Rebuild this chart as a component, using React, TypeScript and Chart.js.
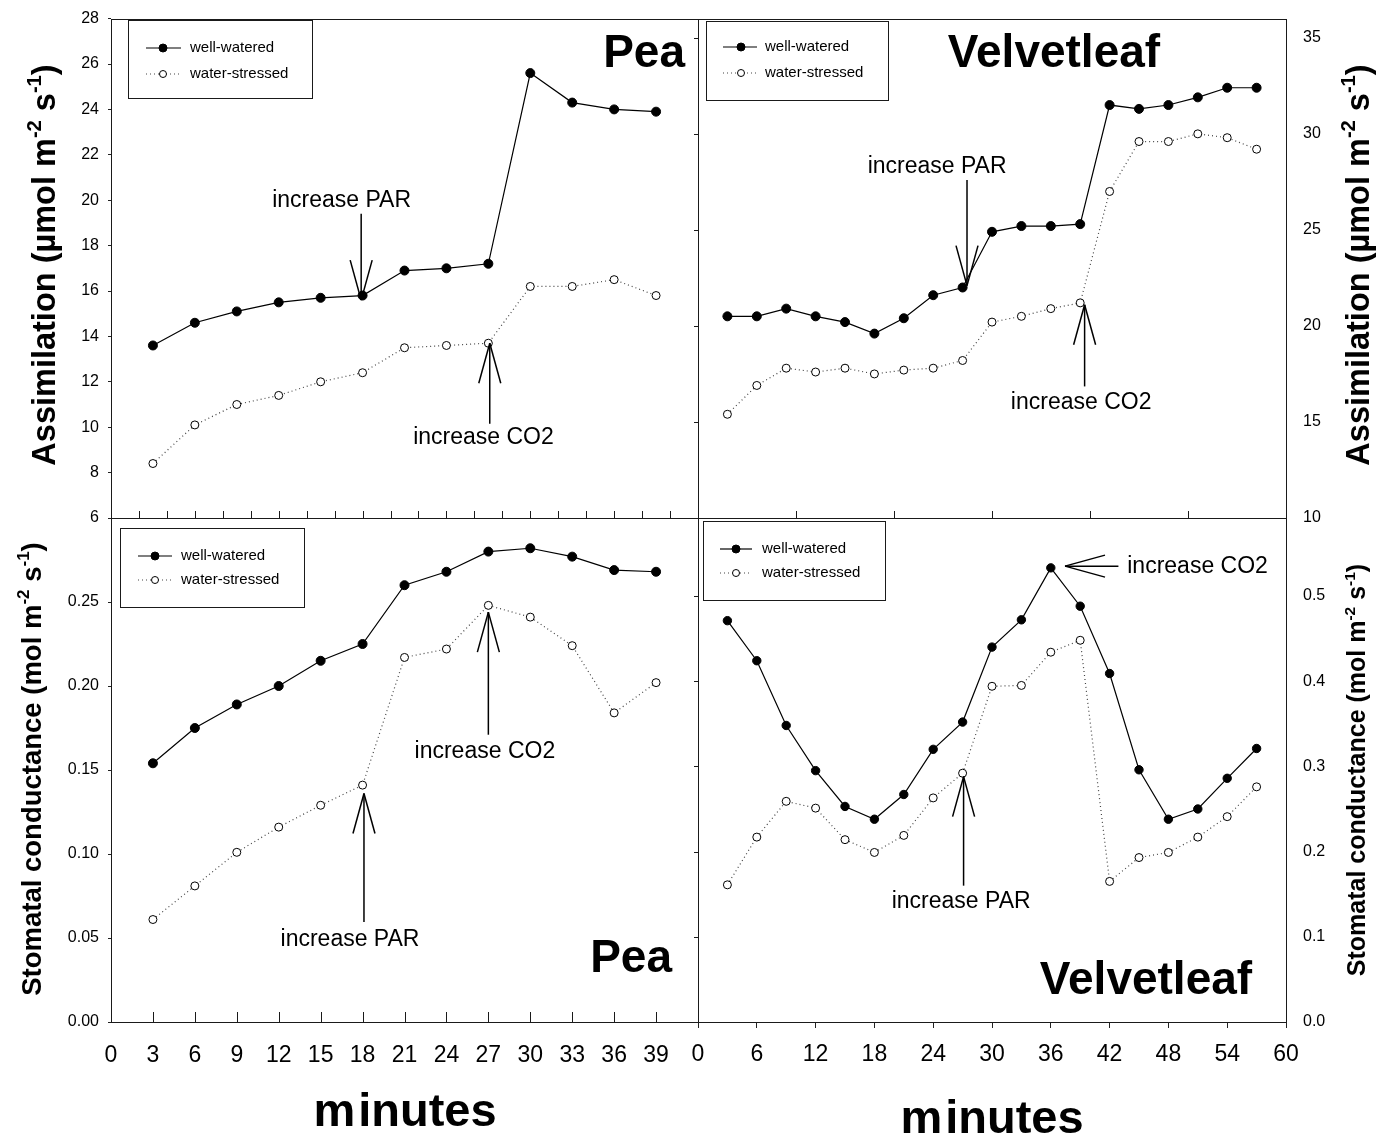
import React, { useEffect, useRef } from "react";
import { Chart, registerables } from "chart.js";
Chart.register(...registerables);

const W = 1385;
const H = 1135;
const FONT = "'Liberation Sans', Arial, sans-serif";

// ---------------- data ----------------
const peaMinutes = [3, 6, 9, 12, 15, 18, 21, 24, 27, 30, 33, 36, 39];
const velvetMinutes = [3, 6, 9, 12, 15, 18, 21, 24, 27, 30, 33, 36, 39, 42, 45, 48, 51, 54, 57];

const peaAssimWW = [13.6, 14.6, 15.1, 15.5, 15.7, 15.8, 16.9, 17.0, 17.2, 25.6, 24.3, 24.0, 23.9];
const peaAssimWS = [8.4, 10.1, 11.0, 11.4, 12.0, 12.4, 13.5, 13.6, 13.7, 16.2, 16.2, 16.5, 15.8];

const velvetAssimWW = [20.5, 20.5, 20.9, 20.5, 20.2, 19.6, 20.4, 21.6, 22.0, 24.9, 25.2, 25.2, 25.3, 31.5, 31.3, 31.5, 31.9, 32.4, 32.4];
const velvetAssimWS = [15.4, 16.9, 17.8, 17.6, 17.8, 17.5, 17.7, 17.8, 18.2, 20.2, 20.5, 20.9, 21.2, 27.0, 29.6, 29.6, 30.0, 29.8, 29.2];

const peaGsWW = [0.154, 0.175, 0.189, 0.2, 0.215, 0.225, 0.26, 0.268, 0.28, 0.282, 0.277, 0.269, 0.268];
const peaGsWS = [0.061, 0.081, 0.101, 0.116, 0.129, 0.141, 0.217, 0.222, 0.248, 0.241, 0.224, 0.184, 0.202];

const velvetGsWW = [0.471, 0.424, 0.348, 0.295, 0.253, 0.238, 0.267, 0.32, 0.352, 0.44, 0.472, 0.533, 0.488, 0.409, 0.296, 0.238, 0.25, 0.286, 0.321];
const velvetGsWS = [0.161, 0.217, 0.259, 0.251, 0.214, 0.199, 0.219, 0.263, 0.292, 0.394, 0.395, 0.434, 0.448, 0.165, 0.193, 0.199, 0.217, 0.241, 0.276];

const seriesLabels = ["well-watered", "water-stressed"];
const speciesNames = ["Pea", "Velvetleaf"];
const xTitle = "minutes";

// annotations in data units: text position and arrow (from -> tip)
const annPeaAssim = [
  { text: "increase PAR", tx: 16.5, ty: 20.0, ax1: 17.9, ay1: 19.4, ax2: 17.9, ay2: 15.6 },
  { text: "increase CO2", tx: 26.65, ty: 9.54, ax1: 27.1, ay1: 10.15, ax2: 27.1, ay2: 13.7 },
];
const annVelvetAssim = [
  { text: "increase PAR", tx: 24.4, ty: 28.3, ax1: 27.45, ay1: 27.6, ax2: 27.45, ay2: 22.1 },
  { text: "increase CO2", tx: 39.1, ty: 16.0, ax1: 39.45, ay1: 16.85, ax2: 39.45, ay2: 21.1 },
];
const annPeaGs = [
  { text: "increase PAR", tx: 17.1, ty: 0.049, ax1: 18.1, ay1: 0.0595, ax2: 18.1, ay2: 0.136 },
  { text: "increase CO2", tx: 26.75, ty: 0.161, ax1: 27.0, ay1: 0.171, ax2: 27.0, ay2: 0.244 },
];
const annVelvetGs = [
  { text: "increase PAR", tx: 26.85, ty: 0.141, ax1: 27.1, ay1: 0.16, ax2: 27.1, ay2: 0.288 },
  { text: "increase CO2", tx: 43.8, ty: 0.534, align: "left", ax1: 42.9, ay1: 0.535, ax2: 37.45, ay2: 0.535 },
];

const assimTitle = [
  { t: "Assimilation (µmol m", sup: false },
  { t: "-2", sup: true },
  { t: " s", sup: false },
  { t: "-1", sup: true },
  { t: ")", sup: false },
];
const gsTitle = [
  { t: "Stomatal conductance (mol m", sup: false },
  { t: "-2", sup: true },
  { t: " s", sup: false },
  { t: "-1", sup: true },
  { t: ")", sup: false },
];

// ---------------- drawing helpers ----------------
function line(ctx: CanvasRenderingContext2D, x1: number, y1: number, x2: number, y2: number) {
  ctx.beginPath();
  ctx.moveTo(x1, y1);
  ctx.lineTo(x2, y2);
  ctx.stroke();
}

function drawRich(ctx: CanvasRenderingContext2D, parts: any[], bx: number, cy: number, size: number) {
  ctx.save();
  ctx.translate(bx, cy);
  ctx.rotate(-Math.PI / 2);
  const sup = size * 0.62;
  let total = 0;
  const widths = parts.map((p) => {
    ctx.font = `bold ${p.sup ? sup : size}px ${FONT}`;
    const w = ctx.measureText(p.t).width;
    total += w;
    return w;
  });
  let x = -total / 2;
  ctx.fillStyle = "#000";
  ctx.textAlign = "left";
  ctx.textBaseline = "alphabetic";
  parts.forEach((p, i) => {
    ctx.font = `bold ${p.sup ? sup : size}px ${FONT}`;
    ctx.fillText(p.t, x, p.sup ? -size * 0.42 : 0);
    x += widths[i];
  });
  ctx.restore();
}

function drawMinutes(ctx: CanvasRenderingContext2D, cx: number, base: number) {
  ctx.save();
  ctx.font = `bold 47px ${FONT}`;
  ctx.fillStyle = "#000";
  ctx.textAlign = "left";
  ctx.textBaseline = "alphabetic";
  const a = xTitle.slice(0, 1);
  const b = xTitle.slice(1);
  const gap = 3;
  const wa = ctx.measureText(a).width;
  const wb = ctx.measureText(b).width;
  const x0 = cx - (wa + gap + wb) / 2;
  ctx.fillText(a, x0, base);
  ctx.fillText(b, x0 + wa + gap, base);
  ctx.restore();
}

const decor = (p: any) => ({
  id: "decor",
  afterDatasetsDraw(chart: any) {
    const ctx: CanvasRenderingContext2D = chart.ctx;
    const ca = chart.chartArea;
    const xs = chart.scales.x;
    const ys = chart.scales.y;
    ctx.save();
    ctx.strokeStyle = "#1a1a1a";
    ctx.lineWidth = 1;
    // frame
    ctx.strokeRect(Math.round(ca.left) + 0.5, Math.round(ca.top) + 0.5, Math.round(ca.right - ca.left), Math.round(ca.bottom - ca.top));
    // inward x ticks
    if (p.xInward) {
      for (const t of xs.ticks) {
        if (t.value <= xs.min || t.value >= xs.max) continue;
        const px = Math.round(xs.getPixelForValue(t.value)) + 0.5;
        line(ctx, px, ca.bottom, px, ca.bottom - p.xInward);
      }
    }
    // outward ticks on left edge for right-axis panels
    if (p.yLeftOut) {
      for (const t of ys.ticks) {
        const py = Math.round(ys.getPixelForValue(t.value)) + 0.5;
        line(ctx, ca.left - p.yLeftOut, py, ca.left, py);
      }
    }
    // legend
    const lg = p.legend;
    ctx.strokeRect(lg.x + 0.5, lg.y + 0.5, lg.w, lg.h);
    chart.data.datasets.forEach((ds: any, i: number) => {
      const ry = lg.rows[i];
      ctx.save();
      ctx.strokeStyle = ds.borderColor;
      ctx.lineWidth = ds.borderWidth;
      ctx.setLineDash(ds.borderDash || []);
      line(ctx, lg.x1, ry, lg.x2, ry);
      ctx.restore();
      ctx.beginPath();
      ctx.arc(lg.mx, ry, i === 0 ? 4 : 3.5, 0, Math.PI * 2);
      ctx.fillStyle = ds.pointBackgroundColor;
      ctx.fill();
      ctx.strokeStyle = "#000";
      ctx.lineWidth = 1;
      ctx.stroke();
      ctx.fillStyle = "#000";
      ctx.font = `15px ${FONT}`;
      ctx.textAlign = "left";
      ctx.textBaseline = "middle";
      ctx.fillText(ds.label, lg.tx, ry);
    });
    // annotations
    ctx.strokeStyle = "#000";
    ctx.lineWidth = 1.5;
    for (const a of p.ann) {
      ctx.fillStyle = "#000";
      ctx.font = `23px ${FONT}`;
      ctx.textAlign = a.align || "center";
      ctx.textBaseline = "middle";
      ctx.fillText(a.text, xs.getPixelForValue(a.tx), ys.getPixelForValue(a.ty));
      const x1 = xs.getPixelForValue(a.ax1);
      const y1 = ys.getPixelForValue(a.ay1);
      const x2 = xs.getPixelForValue(a.ax2);
      const y2 = ys.getPixelForValue(a.ay2);
      line(ctx, x1, y1, x2, y2);
      const dx = x2 - x1;
      const dy = y2 - y1;
      const len = Math.hypot(dx, dy);
      const ux = dx / len;
      const uy = dy / len;
      const hl = 40;
      const hw = 11;
      const bx = x2 - ux * hl;
      const by = y2 - uy * hl;
      line(ctx, bx - uy * hw, by + ux * hw, x2, y2);
      line(ctx, bx + uy * hw, by - ux * hw, x2, y2);
    }
    // species label
    ctx.fillStyle = "#000";
    ctx.font = `bold 46px ${FONT}`;
    ctx.textAlign = p.name.align;
    ctx.textBaseline = "alphabetic";
    ctx.fillText(p.name.text, p.name.x, p.name.y);
    // axis title
    drawRich(ctx, p.title.parts, p.title.bx, p.title.cy, p.title.size);
    if (p.minutes) drawMinutes(ctx, p.minutes.cx, p.minutes.base);
    ctx.restore();
  },
});

const tickFont = { family: FONT, size: 16 };
const xTickFont = { family: FONT, size: 23 };

function makeDatasets(xs: number[], ww: number[], ws: number[], rWW: number) {
  return [
    {
      label: seriesLabels[0],
      data: xs.map((x, i) => ({ x, y: ww[i] })),
      borderColor: "#000",
      borderWidth: 1.2,
      pointRadius: rWW,
      pointHoverRadius: rWW,
      pointBackgroundColor: "#000",
      pointBorderColor: "#000",
      pointBorderWidth: 1,
      tension: 0,
    },
    {
      label: seriesLabels[1],
      data: xs.map((x, i) => ({ x, y: ws[i] })),
      borderColor: "#444",
      borderWidth: 1.2,
      borderDash: [1, 3],
      pointRadius: 4,
      pointHoverRadius: 4,
      pointBackgroundColor: "#fff",
      pointBorderColor: "#000",
      pointBorderWidth: 1,
      tension: 0,
    },
  ];
}

const PANELS = [
  {
    datasets: makeDatasets(peaMinutes, peaAssimWW, peaAssimWS, 4.5),
    padding: { left: 0, top: 14, right: W - 698, bottom: H - 518 - 1 },
    x: {
      type: "linear", min: 0, max: 42, position: "bottom",
      ticks: { display: false, stepSize: 2, autoSkip: false },
      grid: { display: false }, border: { display: false },
      afterFit: (s: any) => { s.height = 1; },
    },
    y: {
      type: "linear", min: 6, max: 28, position: "left",
      ticks: { stepSize: 2, autoSkip: false, padding: 9, color: "#000", font: tickFont },
      grid: { display: true, drawOnChartArea: false, tickLength: 3, color: "#222" },
      border: { display: false },
      afterFit: (s: any) => { s.width = 111; },
    },
    decor: {
      xInward: 7, yLeftOut: 0,
      legend: { x: 128, y: 20, w: 184, h: 78, rows: [48, 74], x1: 146, x2: 181, mx: 163, tx: 190 },
      ann: annPeaAssim,
      name: { text: speciesNames[0], x: 685, y: 67, align: "right" },
      title: { parts: assimTitle, bx: 55, cy: 265, size: 32.5 },
    },
  },
  {
    datasets: makeDatasets(velvetMinutes, velvetAssimWW, velvetAssimWS, 4.5),
    padding: { left: 698, top: 14, right: 0, bottom: H - 518 - 1 },
    x: {
      type: "linear", min: 0, max: 60, position: "bottom",
      ticks: { display: false, stepSize: 10, autoSkip: false },
      grid: { display: false }, border: { display: false },
      afterFit: (s: any) => { s.height = 1; },
    },
    y: {
      type: "linear", min: 10, max: 36, position: "right",
      ticks: { stepSize: 5, includeBounds: false, autoSkip: false, padding: 9, color: "#000", font: tickFont },
      grid: { display: false }, border: { display: false },
      afterFit: (s: any) => { s.width = W - 1286; },
    },
    decor: {
      xInward: 7, yLeftOut: 4,
      legend: { x: 706, y: 21, w: 182, h: 79, rows: [47, 73], x1: 723, x2: 757, mx: 741, tx: 765 },
      ann: annVelvetAssim,
      name: { text: speciesNames[1], x: 1054, y: 67, align: "center" },
      title: { parts: assimTitle, bx: 1369, cy: 265, size: 32.5 },
    },
  },
  {
    datasets: makeDatasets(peaMinutes, peaGsWW, peaGsWS, 4.5),
    padding: { left: 0, top: 518, right: W - 698, bottom: 0 },
    x: {
      type: "linear", min: 0, max: 42, position: "bottom",
      ticks: {
        stepSize: 3, autoSkip: false, maxRotation: 0, padding: 12, color: "#000", font: xTickFont,
        callback: (v: number) => (v >= 42 ? "" : String(v)),
      },
      grid: { display: false }, border: { display: false },
      afterFit: (s: any) => { s.height = H - 1022; },
    },
    y: {
      type: "linear", min: 0, max: 0.3, position: "left",
      ticks: {
        stepSize: 0.05, autoSkip: false, padding: 9, color: "#000", font: tickFont,
        callback: (v: number) => (v > 0.29 ? "" : v.toFixed(2)),
      },
      grid: { display: true, drawOnChartArea: false, tickLength: 3, color: "#222" },
      border: { display: false },
      afterFit: (s: any) => { s.width = 111; },
    },
    decor: {
      xInward: 10, yLeftOut: 0,
      legend: { x: 120, y: 528, w: 184, h: 79, rows: [556, 580], x1: 138, x2: 172, mx: 155, tx: 181 },
      ann: annPeaGs,
      name: { text: speciesNames[0], x: 672, y: 972, align: "right" },
      title: { parts: gsTitle, bx: 41, cy: 769, size: 27.5 },
      minutes: { cx: 405, base: 1126 },
    },
  },
  {
    datasets: makeDatasets(velvetMinutes, velvetGsWW, velvetGsWS, 4.2),
    padding: { left: 698, top: 518, right: 0, bottom: 0 },
    x: {
      type: "linear", min: 0, max: 60, position: "bottom",
      ticks: { stepSize: 6, autoSkip: false, maxRotation: 0, padding: 13, color: "#000", font: xTickFont },
      grid: { display: true, drawOnChartArea: false, tickLength: 6, color: "#222" },
      border: { display: false },
      afterFit: (s: any) => { s.height = H - 1022; },
    },
    y: {
      type: "linear", min: 0, max: 0.5915, position: "right",
      ticks: {
        stepSize: 0.1, includeBounds: false, autoSkip: false, padding: 9, color: "#000", font: tickFont,
        callback: (v: number) => v.toFixed(1),
      },
      grid: { display: false }, border: { display: false },
      afterFit: (s: any) => { s.width = W - 1286; },
    },
    decor: {
      xInward: 0, yLeftOut: 4,
      legend: { x: 703, y: 521, w: 182, h: 79, rows: [549, 573], x1: 720, x2: 752, mx: 736, tx: 762 },
      ann: annVelvetGs,
      name: { text: speciesNames[1], x: 1146, y: 994, align: "center" },
      title: { parts: gsTitle, bx: 1365, cy: 770, size: 25 },
      minutes: { cx: 992, base: 1133 },
    },
  },
];

function buildConfig(p: any): any {
  return {
    type: "line",
    data: { datasets: p.datasets },
    options: {
      animation: false,
      responsive: false,
      events: [],
      layout: { padding: p.padding, autoPadding: false },
      plugins: { legend: { display: false }, tooltip: { enabled: false }, title: { display: false } },
      scales: { x: p.x, y: p.y },
    },
    plugins: [decor(p.decor)],
  };
}

export default function App() {
  const r0 = useRef<HTMLCanvasElement>(null);
  const r1 = useRef<HTMLCanvasElement>(null);
  const r2 = useRef<HTMLCanvasElement>(null);
  const r3 = useRef<HTMLCanvasElement>(null);
  const refs = [r0, r1, r2, r3];
  useEffect(() => {
    const charts = PANELS.map((p, i) => new Chart(refs[i].current as HTMLCanvasElement, buildConfig(p)));
    return () => charts.forEach((c) => c.destroy());
  }, []);
  return (
    <div style={{ position: "absolute", left: 0, top: 0, width: W, height: H, background: "#fff", overflow: "hidden" }}>
      {PANELS.map((_, i) => (
        <canvas
          key={i}
          ref={refs[i]}
          width={W}
          height={H}
          style={{ position: "absolute", left: 0, top: 0, width: W, height: H }}
        />
      ))}
    </div>
  );
}
